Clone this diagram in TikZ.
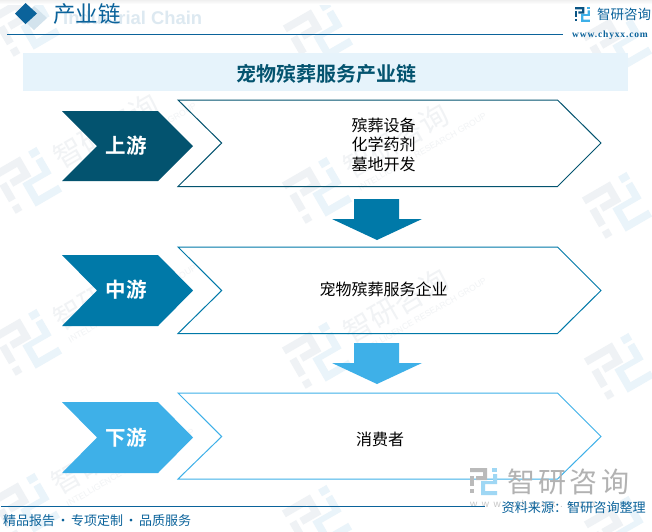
\documentclass[tikz,border=0pt]{standalone}
\usepackage{fontspec}
\setmainfont{Liberation Sans}
\newfontfamily\cjk{Noto Sans CJK SC}
\newfontfamily\cjkb{Noto Sans CJK SC Bold}
\newfontfamily\serifl{Liberation Serif}
\definecolor{upc}{HTML}{03536F}
\definecolor{midc}{HTML}{0079A8}
\definecolor{lowc}{HTML}{3EB0E8}
\definecolor{brand}{HTML}{0B639B}
\definecolor{band}{HTML}{E6F3FB}
\definecolor{wm}{HTML}{F1F3F5}
\definecolor{wmg}{HTML}{EFF2F5}
\definecolor{wmb}{HTML}{EAF4FA}
\tikzset{
  x=1pt,y=-1pt,
  outl/.style={draw=#1,line width=1pt},
  lab/.style={font=\cjkb\fontsize{20.5}{20.5}\selectfont,text=white,inner sep=0pt},
  body/.style={font=\cjk\fontsize{16}{19.5}\selectfont,text=black,inner sep=0pt,align=center},
}
% logo in a 27-unit box centred on the current origin
\newcommand{\logoshape}[2]{%
  \fill[#1] (-13.5,-13.5) -- (3.5,-13.5) -- (3.5,-1.5) -- (-7.5,-1.5) -- (-7.5,-5.5) -- (-0.5,-5.5) -- (-0.5,-9.5) -- (-13.5,-9.5) -- cycle;
  \fill[#1] (-13.5,-5.5) rectangle (-9.5,4.5);
  \fill[#1] (-13.5,7.5) rectangle (-9.5,11.5);
  \fill[#2] (8.5,-13.5) rectangle (13.5,-9.5);
  \fill[#2] (9.5,-7.5) -- (13.5,-7.5) -- (13.5,2.5) -- (1.5,2.5) -- (1.5,9.5) -- (13.5,9.5) -- (13.5,13.5) -- (-2.5,13.5) -- (-2.5,-0.5) -- (9.5,-0.5) -- cycle;
}
\newcommand{\wlogo}[2]{%
  \begin{scope}[shift={(#1,#2)},rotate=30,scale=1.9]
    \logoshape{wmg}{wmb}
  \end{scope}}
\newcommand{\wmark}[2]{%
  \wlogo{#1}{#2}
  \begin{scope}[shift={(#1,#2)},rotate=30]
    \node[font=\cjk\fontsize{29}{29}\selectfont,text=wm,inner sep=0pt,anchor=west,rotate=30] at (36,-5) {智研咨询};
    \node[font=\fontsize{8.6}{9}\selectfont,text=wm,inner sep=0pt,anchor=west,rotate=30] at (38,18) {INTELLIGENCE RESEARCH GROUP};
  \end{scope}}
\begin{document}
\begin{tikzpicture}
\useasboundingbox (0,0) rectangle (652,531);
\fill[white] (0,0) rectangle (652,531);
% watermarks
\wlogo{25}{25}\wlogo{318}{35}\wlogo{617}{44}
\wmark{27}{182}\wmark{317}{192}\wlogo{617}{207}
\wmark{27}{344}\wmark{317}{357}\wlogo{619}{368}
\wmark{25}{508}\wlogo{317}{520}\wlogo{619}{531}
% header
\fill[top color=black!6,bottom color=white] (0,0) rectangle (652,4);
\node[font=\bfseries\fontsize{18.4}{18}\selectfont,text=brand!14,inner sep=0pt,anchor=west] (en) at (63,18) {Industrial Chain};
\fill[brand!18] (34,6) -- (47,18) -- (34,30) -- (22,18) -- cycle;
\fill[brand] (25.5,3) -- (37,13.5) -- (25.5,24) -- (15,13.5) -- cycle;
\node[font=\cjk\fontsize{22.5}{23}\selectfont,text=brand,inner sep=0pt,anchor=west] (ttl) at (53,14) {产业链};
\coordinate (hl) at (7,34.5); \coordinate (hr) at (563,34.5);
\draw[brand,line width=1pt] (hl) -- (hr);
% top right logo
\begin{scope}[shift={(582.5,14.5)},scale=0.55]
  \logoshape{brand!85!black}{lowc}
\end{scope}
\node[font=\cjk\fontsize{13.5}{14}\selectfont,text=brand,inner sep=0pt,anchor=west] (brandname) at (597,14) {智研咨询};
\node[font={\serifl\bfseries\fontsize{9.5}{10}\selectfont\addfontfeature{LetterSpace=9}},text=brand,inner sep=0pt,anchor=west] (url) at (572,35) {www.chyxx.com};
% band
\fill[band] (23,53) rectangle (628,91);
\node[font=\cjkb\fontsize{20}{20}\selectfont,text=upc,inner sep=0pt] (main) at (326.5,74) {宠物殡葬服务产业链};
% outlines
\draw[outl=upc] (178,100) -- (557.5,100) -- (601,143) -- (557.5,186.5) -- (178,186.5) -- (221.7,143) -- cycle;
\draw[outl=midc] (178,247) -- (557.5,247) -- (601,290.5) -- (557.5,333.5) -- (178,333.5) -- (221.7,290.5) -- cycle;
\draw[outl=lowc] (178,393) -- (557.5,393) -- (601,436.5) -- (557.5,479) -- (178,479) -- (221.7,436.5) -- cycle;
% chevrons
\fill[upc] (62,111) -- (158,111) -- (193,146) -- (158,181) -- (62,181) -- (97,146) -- cycle;
\fill[midc] (62,255) -- (158,255) -- (193,290.5) -- (158,326) -- (62,326) -- (97,290.5) -- cycle;
\fill[lowc] (62,402) -- (158,402) -- (193,437.5) -- (158,473) -- (62,473) -- (97,437.5) -- cycle;
\node[lab] (a) at (126,146) {上游};
\node[lab] (b) at (126,290) {中游};
\node[lab] (c) at (126,438) {下游};
\node[body] (a2) at (383.5,144.5) {殡葬设备\\化学药剂\\墓地开发};
\node[body] (b2) at (383.5,289.5) {宠物殡葬服务企业};
\node[body] (c2) at (380,439) {消费者};
% arrows
\fill[midc] (354,199) -- (399,199) -- (399,219) -- (422,219) -- (377,240) -- (332,219) -- (354,219) -- cycle;
\fill[lowc] (354,343) -- (399,343) -- (399,363) -- (422,363) -- (377,384) -- (332,363) -- (354,363) -- cycle;
% bottom logo
\begin{scope}[shift={(483.5,481.5)}]
  \logoshape{black!27}{lowc!50}
\end{scope}
\node[font={\cjk\fontsize{28}{28}\selectfont\addfontfeature{LetterSpace=12}},text=black!30,inner sep=0pt,anchor=west] (bwm) at (507,482) {智研咨询};
\node[font={\fontsize{10}{10}\selectfont\addfontfeature{LetterSpace=45}},text=black!22,inner sep=0pt,anchor=west] (burl) at (470,505) {www.chyxx.com};
% footer
\coordinate (fl) at (1,506); \coordinate (fr) at (485,506);
\draw[brand,line width=1pt] (fl) -- (fr);
\node[font=\cjk\fontsize{13}{13}\selectfont,text=brand,inner sep=0pt,anchor=west] (foot) at (3,521) {精品报告\hspace{1.5pt}·\hspace{1.5pt}专项定制\hspace{1.5pt}·\hspace{1.5pt}品质服务};
\node[font=\cjk\fontsize{13.1}{13}\selectfont,text=brand,inner sep=0pt,anchor=east] (src) at (646,507.5) {资料来源：智研咨询整理};
\end{tikzpicture}
\end{document}
